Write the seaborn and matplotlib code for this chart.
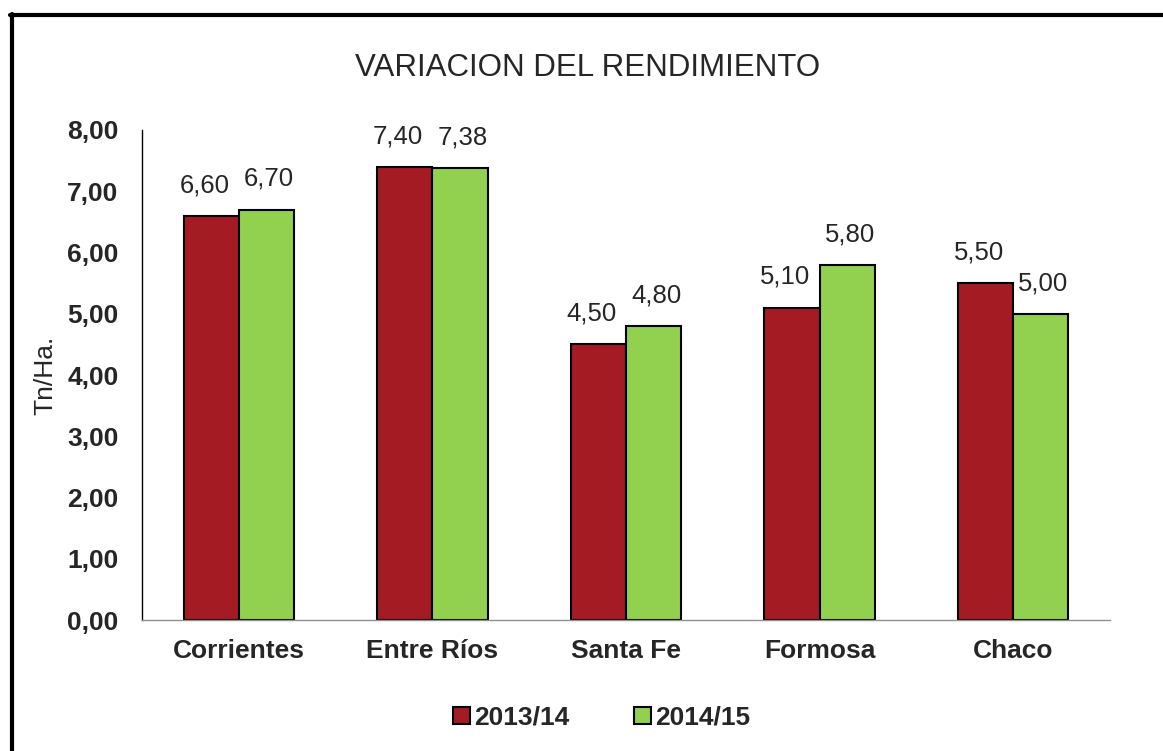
import matplotlib
matplotlib.use("Agg")
import matplotlib.pyplot as plt
import seaborn as sns
import pandas as pd
from matplotlib.lines import Line2D
from matplotlib.patches import Patch

categories = ["Corrientes", "Entre Ríos", "Santa Fe", "Formosa", "Chaco"]
series_names = ["2013/14", "2014/15"]
vals_2013 = [6.60, 7.40, 4.50, 5.10, 5.50]
vals_2014 = [6.70, 7.38, 4.80, 5.80, 5.00]
colors = ["#A51B24", "#92D050"]

df = pd.DataFrame({
    "cat": categories * 2,
    "serie": [series_names[0]] * 5 + [series_names[1]] * 5,
    "val": vals_2013 + vals_2014,
})

sns.set_theme(style="white")
plt.rcParams["font.family"] = ["Liberation Sans", "DejaVu Sans"]

fig = plt.figure(figsize=(11.63, 7.51), dpi=100)
ax = fig.add_axes([0.1221, 0.1744, 0.8323, 0.6525])
sns.barplot(data=df, x="cat", y="val", hue="serie", palette=colors,
            width=0.57, edgecolor="black", linewidth=1.5, ax=ax,
            legend=False, errorbar=None, saturation=1)

ax.set_ylim(0, 8)
ax.set_xlim(-0.5, 4.5)
ax.set_yticks([0, 1, 2, 3, 4, 5, 6, 7, 8])
ax.set_yticklabels([f"{v:.2f}".replace(".", ",") for v in range(9)],
                   fontsize=19, fontweight="bold")
ax.set_xticks(range(5))
ax.set_xticklabels(categories, fontsize=19, fontweight="bold")
ax.tick_params(axis="y", length=0, pad=17)
ax.tick_params(axis="x", length=0, pad=14)
ax.set_xlabel("")
ax.set_ylabel("Tn/Ha.", fontsize=19, labelpad=7)
for s in ["top", "right"]:
    ax.spines[s].set_visible(False)
ax.spines["left"].set_color("black")
ax.spines["left"].set_linewidth(1.0)
ax.spines["bottom"].set_color("#909090")
ax.spines["bottom"].set_linewidth(1.0)

x_offsets = [-5, 2]  # points: labels spread slightly outward
for cont, dx in zip(ax.containers, x_offsets):
    for b in cont:
        h = b.get_height()
        ax.annotate(f"{h:.2f}".replace(".", ","),
                    (b.get_x() + b.get_width() / 2, h),
                    xytext=(dx, 13.5), textcoords="offset points",
                    ha="center", va="bottom", fontsize=18.5)

fig.text(0.505, 0.91, "VARIACION DEL RENDIMIENTO", ha="center", va="center", fontsize=22.5)

handles = [Patch(facecolor=c, edgecolor="black", linewidth=1.5) for c in colors]
leg = fig.legend(handles, series_names, loc="center", bbox_to_anchor=(0.517, 0.044),
                 ncol=2, frameon=False, prop={"weight": "bold", "size": 19},
                 handlelength=0.65, handleheight=0.65, handletextpad=0.15, columnspacing=2.46)

# outer frame (top and left)
fig.add_artist(Line2D([0.009, 1.0], [0.98, 0.98], color="black", linewidth=3, transform=fig.transFigure))
fig.add_artist(Line2D([0.0105, 0.0105], [0.0, 0.981], color="black", linewidth=3, transform=fig.transFigure))

fig.savefig("out.png", dpi=100)
